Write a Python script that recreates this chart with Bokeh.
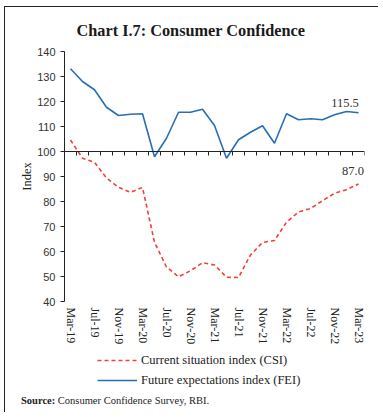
from bokeh.plotting import figure
from bokeh.layouts import column, row
from bokeh.models import (FixedTicker, Span, Label, Legend, LegendItem,
                          ColumnDataSource, Range1d, Div)
from bokeh.embed import file_html
from bokeh.resources import INLINE

# ---- data ----
months = ["Mar-19", "May-19", "Jul-19", "Sep-19", "Nov-19", "Jan-20", "Mar-20",
          "May-20", "Jul-20", "Sep-20", "Nov-20", "Jan-21", "Mar-21", "May-21",
          "Jul-21", "Sep-21", "Nov-21", "Jan-22", "Mar-22", "May-22", "Jul-22",
          "Sep-22", "Nov-22", "Jan-23", "Mar-23"]
csi = [104.6, 97.3, 95.7, 89.4, 85.7, 83.7, 85.6, 63.7, 53.8, 49.9, 52.3, 55.5,
       54.6, 49.7, 49.6, 58.6, 63.6, 64.4, 71.7, 75.8, 77.2, 80.3, 83.3, 84.7, 87.0]
fei = [133.1, 128.0, 124.7, 117.7, 114.4, 114.9, 115.1, 97.9, 105.3, 115.7,
       115.7, 116.9, 110.4, 97.3, 104.7, 107.7, 110.3, 103.3, 115.1, 112.7,
       113.1, 112.7, 114.7, 116.0, 115.5]
y_ticks = [40, 50, 60, 70, 80, 90, 100, 110, 120, 130, 140]
series_names = ["Current situation index (CSI)", "Future expectations index (FEI)"]
title_text = "Chart I.7: Consumer Confidence"
source_head = "Source:"
source_body = "Consumer Confidence Survey, RBI."

n = len(months)
idx = list(range(n))

CSI_COLOR = "#ef4136"
FEI_COLOR = "#2a6db5"
CSI_DASH = "4 3"
TXT = "#222222"

# ---- geometry (canvas coordinates) ----
OX, OY = 5, 7                      # where the chart content starts (inside border)
W = 372
FRAME_W, FRAME_H = 300, 250
BL, BT = 64 - OX, 50 - OY
BR = W - BL - FRAME_W
BB = 347 - OY - BT - FRAME_H
H1 = BT + FRAME_H + BB
H2 = 42
H3 = 412 - OY - H1 - H2
HT = H1 + H2 + H3
X0, X1 = -0.5, n - 0.5
Y0, Y1 = 40, 140
FL, FT = OX + BL, OY + BT


def px_x(px):
    return X0 + (px - FL) / FRAME_W * (X1 - X0)


def px_y(py):
    return Y1 - (py - FT) / FRAME_H * (Y1 - Y0)


p = figure(frame_width=FRAME_W, frame_height=FRAME_H,
           min_border_left=BL, min_border_top=BT, min_border_right=BR,
           min_border_bottom=BB, x_range=Range1d(X0, X1), y_range=Range1d(Y0, Y1),
           output_backend="svg", toolbar_location=None, title=title_text)
p.outline_line_color = None
p.xgrid.visible = False
p.ygrid.visible = False
p.background_fill_color = "white"
p.border_fill_color = "white"

# title
p.title.align = "left"
p.title.offset = 12
p.title.standoff = 23
p.title.text_font = "Liberation Serif"
p.title.text_font_style = "bold"
p.title.text_font_size = "16.3px"
p.title.text_color = "#1a1a1a"

# y axis
p.yaxis.ticker = FixedTicker(ticks=y_ticks)
p.yaxis.major_label_text_font = "Liberation Sans"
p.yaxis.major_label_text_font_size = "11px"
p.yaxis.major_label_text_color = "#333333"
p.yaxis.axis_line_color = TXT
p.yaxis.major_tick_line_color = TXT
p.yaxis.major_tick_in = 0
p.yaxis.major_tick_out = 4
p.yaxis.minor_tick_line_color = None
p.yaxis.major_label_standoff = 5
p.yaxis.axis_label = "Index"
p.yaxis.axis_label_text_font = "Liberation Serif"
p.yaxis.axis_label_text_font_style = "normal"
p.yaxis.axis_label_text_font_size = "12.5px"
p.yaxis.axis_label_text_color = TXT
p.yaxis.axis_label_standoff = 0

# x axis (labels only at bottom)
p.xaxis.ticker = FixedTicker(ticks=idx[::2])
p.xaxis.major_label_overrides = {i: months[i] for i in idx[::2]}
p.xaxis.major_label_orientation = "vertical"
p.xaxis.major_label_text_font = "Liberation Serif"
p.xaxis.major_label_text_font_size = "12px"
p.xaxis.major_label_text_color = TXT
p.xaxis.axis_line_color = None
p.xaxis.major_tick_line_color = None
p.xaxis.minor_tick_line_color = None
p.xaxis.major_tick_in = 0
p.xaxis.major_tick_out = 0
p.xaxis.major_label_standoff = 6

# x axis line at 100 with boundary ticks
p.add_layout(Span(location=100, dimension="width", line_color=TXT, line_width=1))
bx = [i + 0.5 for i in idx]
tick_len = 4 * (Y1 - Y0) / FRAME_H
p.segment(x0=bx, y0=[100] * n, x1=bx, y1=[100 - tick_len] * n,
          line_color=TXT, line_width=1)

# series
src = ColumnDataSource(dict(x=idx, csi=csi, fei=fei))
p.line("x", "csi", source=src, line_color=CSI_COLOR, line_width=1.6, line_dash=CSI_DASH)
p.line("x", "fei", source=src, line_color=FEI_COLOR, line_width=1.6)

# end labels
p.add_layout(Label(x=px_x(344.5), y=px_y(105), text=f"{fei[-1]:.1f}", text_align="center",
                   text_font="Liberation Serif", text_font_size="12.5px",
                   text_color="#333333"))
p.add_layout(Label(x=px_x(352.5), y=px_y(173), text=f"{csi[-1]:.1f}", text_align="center",
                   text_font="Liberation Serif", text_font_size="12.5px",
                   text_color="#333333"))

# ---- legend strip (its frame is aligned with the chart's frame) ----
TOP2 = OY + H1
q = figure(width=W, height=H2, x_range=Range1d(0, 1), y_range=Range1d(0, 1),
           min_border=0, output_backend="svg", toolbar_location=None)
q.axis.visible = False
q.xgrid.visible = False
q.ygrid.visible = False
q.outline_line_color = None
q.background_fill_color = "white"
q.border_fill_color = "white"

nan_src = ColumnDataSource(dict(x=[float("nan")], y=[float("nan")]))
k_csi = q.line("x", "y", source=nan_src, line_color=CSI_COLOR, line_width=1.6,
               line_dash=CSI_DASH)
k_fei = q.line("x", "y", source=nan_src, line_color=FEI_COLOR, line_width=1.6)

legend = Legend(items=[LegendItem(label=series_names[0], renderers=[k_csi]),
                       LegendItem(label=series_names[1], renderers=[k_fei])],
                location=(97 - FL, max(0, H2 - (390 - TOP2))), orientation="vertical",
                glyph_width=40, glyph_height=20, label_height=20, spacing=0,
                padding=0, margin=0, label_standoff=4, border_line_color=None,
                background_fill_alpha=0, label_text_font="Liberation Serif",
                label_text_font_size="12.5px", label_text_color=TXT)
q.add_layout(legend, "center")

# ---- source line ----
src_div = Div(text=f"<b>{source_head}</b> {source_body}", width=W, height=H3,
              styles={"font-family": "Liberation Serif", "font-size": "10.5px",
                      "color": TXT, "padding-left": f"{16 - OX}px",
                      "padding-top": "0px", "line-height": "11px",
                      "box-sizing": "border-box", "background": "white"})

# ---- outer border made of thin bars ----
BAR = {"background-color": TXT}


def bar(w, h):
    return Div(text="", width=w, height=h, margin=0, styles=dict(BAR))


inner = column(p, q, src_div, spacing=0)
layout = column(bar(W + 2, 1),
                row(bar(1, HT), inner, bar(1, HT), spacing=0),
                bar(W + 2, 1), spacing=0,
                styles={"margin-left": f"{OX - 1}px", "margin-top": f"{OY - 1}px"})

open("out.html", "w").write(file_html(layout, INLINE))
